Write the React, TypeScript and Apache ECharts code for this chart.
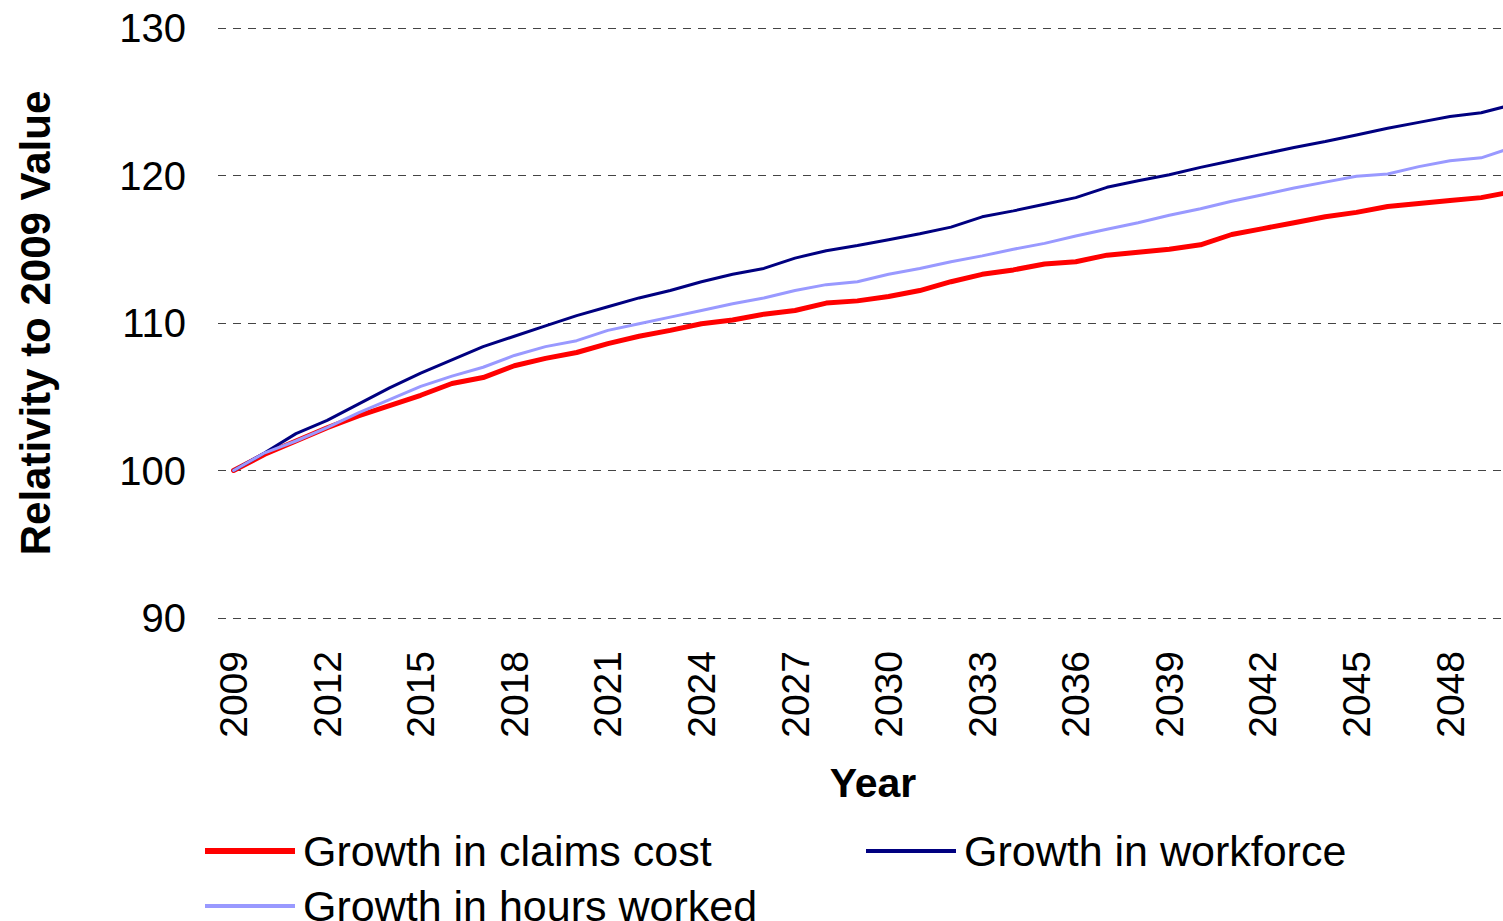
import React, { useEffect, useRef } from "react";
import * as echarts from "echarts";

// Projection years, 2009 to 2050
const years: string[] = [];
for (let y = 2009; y <= 2050; y++) years.push(String(y));

// Index values relative to 2009 (2009 = 100)
const claimsCost = [
  100, 101.1, 102.0, 102.9, 103.7, 104.4, 105.1, 105.9, 106.3, 107.1,
  107.6, 108.0, 108.6, 109.1, 109.5, 109.95, 110.2, 110.6, 110.85, 111.35,
  111.5, 111.8, 112.2, 112.8, 113.3, 113.6, 114.0, 114.15, 114.6, 114.8,
  115.0, 115.3, 116.0, 116.4, 116.8, 117.2, 117.5, 117.9, 118.1, 118.3,
  118.5, 118.9,
];
const workforce = [
  100, 101.2, 102.5, 103.4, 104.5, 105.6, 106.6, 107.5, 108.4, 109.1,
  109.8, 110.5, 111.1, 111.7, 112.2, 112.8, 113.3, 113.7, 114.4, 114.9,
  115.25, 115.65, 116.05, 116.5, 117.2, 117.6, 118.05, 118.5, 119.2, 119.65,
  120.05, 120.55, 121.0, 121.45, 121.9, 122.3, 122.75, 123.2, 123.6, 124.0,
  124.25, 124.8,
];
const hoursWorked = [
  100, 101.2, 102.0, 102.9, 103.9, 104.8, 105.7, 106.4, 107.0, 107.8,
  108.4, 108.8, 109.5, 109.95, 110.4, 110.85, 111.3, 111.7, 112.2, 112.6,
  112.8, 113.3, 113.7, 114.15, 114.55, 115.0, 115.4, 115.9, 116.35, 116.8,
  117.3, 117.75, 118.25, 118.7, 119.15, 119.55, 119.95, 120.1, 120.6, 121.0,
  121.2, 121.9,
];

const seriesNames = ["Growth in claims cost", "Growth in workforce", "Growth in hours worked"];
const seriesColors = ["#FF0000", "#000080", "#9999FF"];
const seriesWidths = [5, 3, 3];

const FONT = "'Liberation Sans', Arial, Helvetica, sans-serif";

export default function App() {
  const ref = useRef<HTMLDivElement>(null);

  useEffect(() => {
    if (!ref.current) return;
    const chart = echarts.init(ref.current, undefined, { renderer: "svg" });
    const data = [claimsCost, workforce, hoursWorked];

    const legendPos = [
      { left: 205, top: 827 },
      { left: 866, top: 827 },
      { left: 205, top: 882 },
    ];

    chart.setOption({
      animation: false,
      backgroundColor: "#ffffff",
      textStyle: { fontFamily: FONT },
      grid: {
        left: 218,
        right: 32,
        top: 28,
        bottom: 303,
        containLabel: false,
        outerBoundsMode: "none",
      },
      xAxis: {
        type: "category",
        data: years,
        boundaryGap: true,
        axisLine: { show: false },
        axisTick: { show: false },
        axisLabel: {
          interval: 2,
          rotate: 90,
          margin: 33,
          color: "#000",
          fontSize: 39,
          fontFamily: FONT,
        },
        name: "Year",
        nameLocation: "middle",
        nameGap: 144,
        nameTextStyle: { color: "#000", fontSize: 41, fontWeight: "bold", fontFamily: FONT },
      },
      yAxis: {
        type: "value",
        min: 90,
        max: 130,
        interval: 10,
        axisLine: { show: false },
        axisTick: { show: false },
        axisLabel: { margin: 32, color: "#000", fontSize: 40, fontFamily: FONT },
        splitLine: { lineStyle: { color: "#444", width: 1, type: [8, 7] } },
        name: "Relativity to 2009 Value",
        nameLocation: "middle",
        nameGap: 162,
        nameTextStyle: { color: "#000", fontSize: 42, fontWeight: "bold", fontFamily: FONT },
      },
      legend: seriesNames.map((name, i) => ({
        data: [{ name, icon: "rect" }],
        left: legendPos[i].left,
        top: legendPos[i].top,
        orient: "horizontal",
        itemWidth: 90,
        itemHeight: seriesWidths[i] + 1,
        itemGap: 10,
        selectedMode: false,
        textStyle: { color: "#000", fontSize: 43, fontFamily: FONT, lineHeight: 48, padding: [0, 0, 0, 3] },
        padding: 0,
      })),
      series: seriesNames.map((name, i) => ({
        name,
        type: "line",
        data: data[i],
        symbol: "none",
        smooth: false,
        color: seriesColors[i],
        lineStyle: { color: seriesColors[i], width: seriesWidths[i], cap: "round", join: "round" },
        itemStyle: { color: seriesColors[i] },
        z: 2 + i,
      })),
    });

    return () => chart.dispose();
  }, []);

  return (
    <div
      style={{
        position: "fixed",
        left: 0,
        top: 0,
        width: 1503,
        height: 921,
        overflow: "hidden",
        background: "#fff",
      }}
    >
      <div ref={ref} style={{ width: 1560, height: 921 }} />
    </div>
  );
}
